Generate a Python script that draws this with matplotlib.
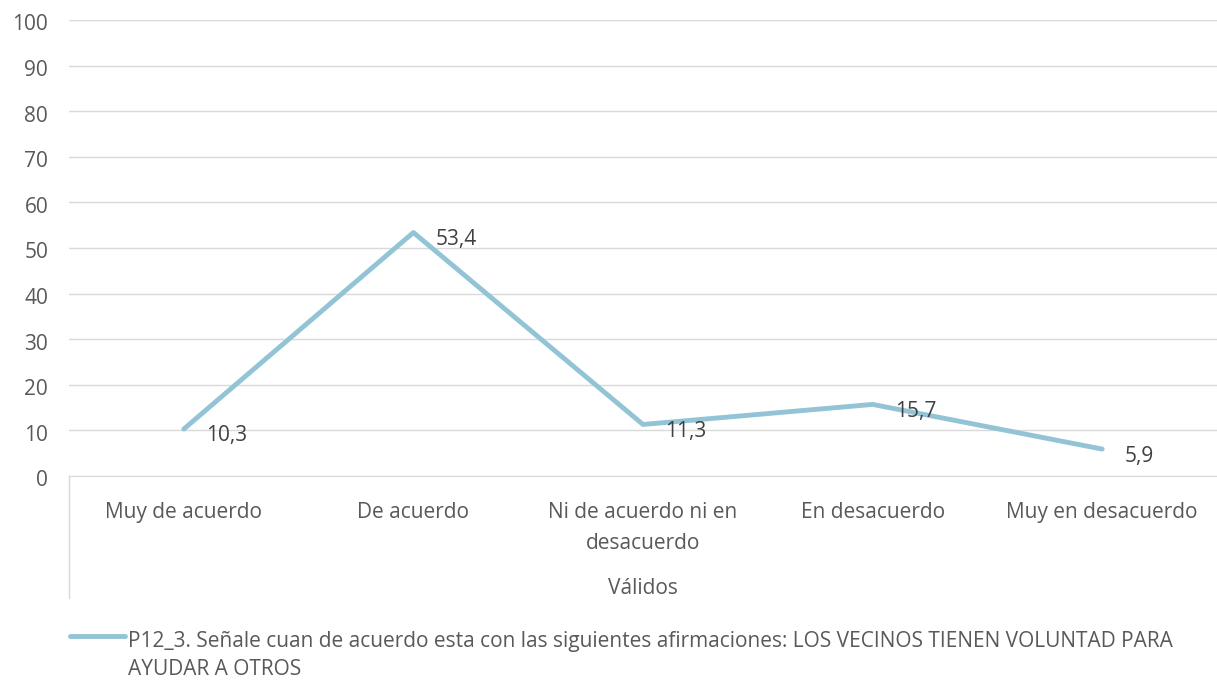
import matplotlib.pyplot as plt
import matplotlib.transforms as mtransforms
from matplotlib.lines import Line2D

plt.rcParams['font.family'] = ['Open Sans', 'DejaVu Sans']

# data
categories = ['Muy de acuerdo', 'De acuerdo', 'Ni de acuerdo ni en\ndesacuerdo',
              'En desacuerdo', 'Muy en desacuerdo']
values = [10.3, 53.4, 11.3, 15.7, 5.9]
yticks = [0, 10, 20, 30, 40, 50, 60, 70, 80, 90, 100]
group_label = 'Válidos'
series_name = ('P12_3. Señale cuan de acuerdo esta con las siguientes afirmaciones: '
               'LOS VECINOS TIENEN VOLUNTAD PARA\nAYUDAR A OTROS')

line_color = '#92C4D6'
grid_color = '#D9D9D9'
text_color = '#595959'

fig = plt.figure(figsize=(12.17, 6.81), dpi=100)
ax = fig.add_axes([69 / 1217, 205 / 681, 1148 / 1217, 456 / 681])

x = list(range(len(categories)))
ax.plot(x, values, color=line_color, lw=3.5, solid_capstyle='round', zorder=3)

for xi, v in zip(x, values):
    ax.annotate(f'{v:.1f}'.replace('.', ','), (xi, v), xytext=(16, -5),
                textcoords='offset points', ha='left', va='center',
                fontsize=15, color='#404040')

ax.set_xlim(-0.5, len(categories) - 0.5)
ax.set_ylim(0, 100)
ax.set_yticks(yticks)
ax.set_yticklabels([str(t) for t in yticks])
ax.set_xticks(x)
ax.set_xticklabels(categories, linespacing=1.6)
ax.tick_params(axis='both', length=0, labelsize=15, colors=text_color)
ax.tick_params(axis='y', pad=15)
ax.tick_params(axis='x', pad=19)
shift = mtransforms.ScaledTranslation(0, -5 / 100, fig.dpi_scale_trans)
for lbl in ax.get_yticklabels():
    lbl.set_verticalalignment('center')
    lbl.set_transform(lbl.get_transform() + shift)

ax.yaxis.grid(True, color=grid_color, lw=1)
ax.set_axisbelow(True)
for s in ['top', 'right', 'left']:
    ax.spines[s].set_visible(False)
ax.spines['bottom'].set_color(grid_color)

# category box line on the left
ax.plot([0, 0], [0, -122 / 456], transform=ax.transAxes, color=grid_color,
        lw=1, clip_on=False)
ax.text(0.5, -112 / 456, group_label, transform=ax.transAxes, ha='center',
        va='center', fontsize=15, color=text_color)

# legend
fig.add_artist(Line2D([70 / 1217, 125 / 1217], [1 - 636 / 681] * 2,
                      color=line_color, lw=3.5, solid_capstyle='round'))
fig.text(128 / 1217, 1 - 631 / 681, series_name, ha='left', va='top',
         fontsize=15, color=text_color, linespacing=1.45)

fig.savefig('out.png', dpi=100)
